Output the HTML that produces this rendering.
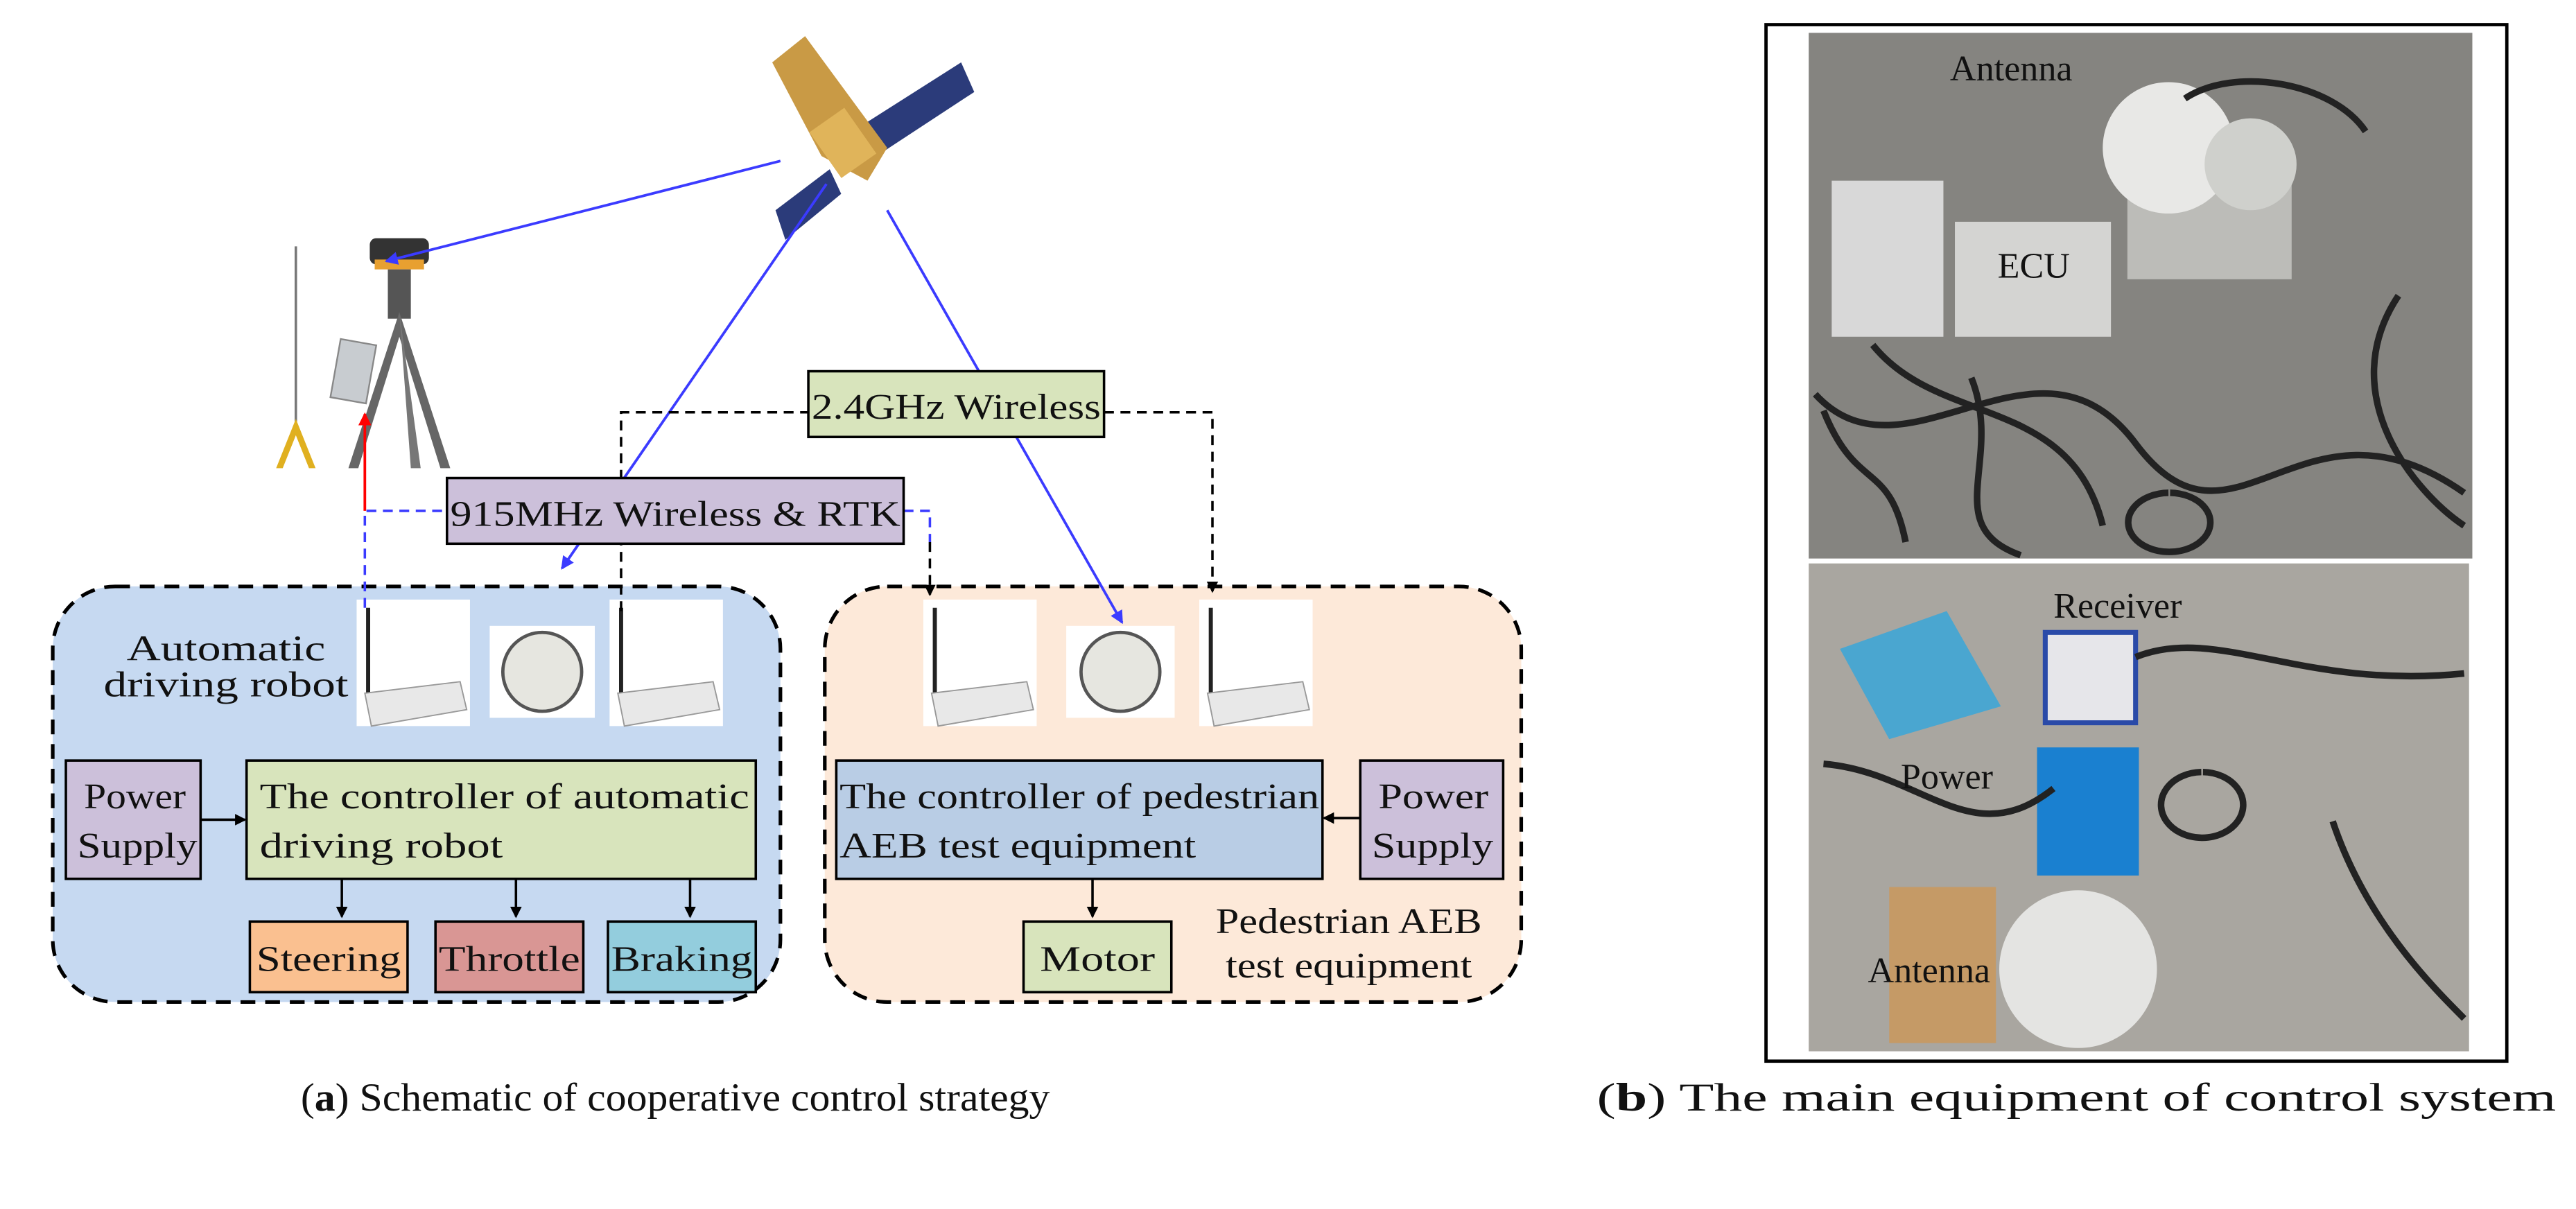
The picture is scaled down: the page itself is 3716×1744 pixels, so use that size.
<!DOCTYPE html>
<html><head><meta charset="utf-8"><style>
html,body{margin:0;padding:0;background:#fff;}
svg{display:block;}
text{font-family:"Liberation Serif",serif;fill:#111;}
</style></head><body>
<svg width="3716" height="1744" viewBox="0 0 1568 736" xmlns="http://www.w3.org/2000/svg">
<defs>
<marker id="ab" markerWidth="8" markerHeight="8" refX="7" refY="4" orient="auto" markerUnits="userSpaceOnUse"><path d="M0,0 L8,4 L0,8 z" fill="#3b3bff"/></marker>
<marker id="ak" markerWidth="7" markerHeight="7" refX="6" refY="3.5" orient="auto" markerUnits="userSpaceOnUse"><path d="M0,0 L7,3.5 L0,7 z" fill="#000"/></marker>
<marker id="ar" markerWidth="8" markerHeight="8" refX="7" refY="4" orient="auto" markerUnits="userSpaceOnUse"><path d="M0,0 L8,4 L0,8 z" fill="#f00"/></marker>
</defs>
<rect width="1568" height="736" fill="#fff"/>

<rect x="32" y="357" width="443" height="253" rx="38" fill="#c6d9f1" stroke="#000" stroke-width="2.2" stroke-dasharray="9,6"/>
<rect x="502" y="357" width="424" height="253" rx="38" fill="#fde9d9" stroke="#000" stroke-width="2.2" stroke-dasharray="9,6"/>

<!-- satellite -->
<g>
<polygon points="522,78 585,38 593,56 532,96" fill="#2b3b7a"/>
<polygon points="472,128 505,103 512,118 478,146" fill="#2b3b7a"/>
<polygon points="470,38 490,22 540,90 528,110 500,95" fill="#c99a45"/>
<rect x="500" y="70" width="26" height="34" fill="#e0b45a" transform="rotate(-35 513 87)"/>
</g>
<!-- tripod -->
<g>
<line x1="180" y1="150" x2="180" y2="260" stroke="#777" stroke-width="1.5"/>
<polygon points="180,255 168,285 172,285 180,265 188,285 192,285" fill="#e0b020"/>
<rect x="225" y="145" width="36" height="16" rx="4" fill="#333"/>
<rect x="228" y="158" width="30" height="6" fill="#e8a030"/>
<rect x="236" y="164" width="14" height="30" fill="#555"/>
<polygon points="243,190 212,285 218,285 243,205 268,285 274,285" fill="#666"/>
<polygon points="243,190 250,285 256,285" fill="#777"/>
<rect x="204" y="208" width="22" height="36" fill="#c8ccd0" stroke="#888" transform="rotate(10 215 226)"/>
</g>
<g id="r">
<rect x="217" y="365" width="69" height="77" fill="#fff"/>
<line x1="224" y1="370" x2="224" y2="425" stroke="#222" stroke-width="2.5"/>
<polygon points="222,422 280,415 284,432 226,442" fill="#e8e8e8" stroke="#999" stroke-width="0.8"/>
</g>
<use href="#r" x="154"/>
<use href="#r" x="345"/>
<use href="#r" x="513"/>
<rect x="298" y="381" width="64" height="56" fill="#fff"/>
<circle cx="330" cy="409" r="24" fill="#e6e6e0" stroke="#555" stroke-width="2"/>
<rect x="649" y="381" width="66" height="56" fill="#fff"/>
<circle cx="682" cy="409" r="24" fill="#e6e6e0" stroke="#555" stroke-width="2"/>

<line x1="475" y1="98" x2="235" y2="159" stroke="#3b3bff" stroke-width="1.6" marker-end="url(#ab)"/>
<line x1="503" y1="112" x2="342" y2="346" stroke="#3b3bff" stroke-width="1.6" marker-end="url(#ab)"/>
<line x1="540" y1="128" x2="683" y2="379" stroke="#3b3bff" stroke-width="1.6" marker-end="url(#ab)"/>

<polyline points="378,372 378,251 492,251" fill="none" stroke="#000" stroke-width="1.5" stroke-dasharray="6,4"/>
<polyline points="672,251 738,251 738,360" fill="none" stroke="#000" stroke-width="1.5" stroke-dasharray="6,4" marker-end="url(#ak)"/>
<polyline points="222,370 222,311 272,311" fill="none" stroke="#3b3bff" stroke-width="1.5" stroke-dasharray="6,4"/>
<polyline points="550,311 566,311 566,330" fill="none" stroke="#3b3bff" stroke-width="1.5" stroke-dasharray="6,4"/>
<polyline points="566,330 566,362" fill="none" stroke="#000" stroke-width="1.5" stroke-dasharray="6,4" marker-end="url(#ak)"/>
<line x1="222" y1="311" x2="222" y2="252" stroke="#f00" stroke-width="1.6" marker-end="url(#ar)"/>

<rect x="492" y="226" width="180" height="40" fill="#d8e4bc" stroke="#000" stroke-width="1.5"/>
<text x="494" y="255" font-size="22" textLength="176" lengthAdjust="spacingAndGlyphs">2.4GHz Wireless</text>
<rect x="272" y="291" width="278" height="40" fill="#ccc0da" stroke="#000" stroke-width="1.5"/>
<text x="274" y="320" font-size="22" textLength="274" lengthAdjust="spacingAndGlyphs">915MHz Wireless &amp; RTK</text>

<text x="77" y="402" font-size="22" textLength="121" lengthAdjust="spacingAndGlyphs">Automatic</text>
<text x="63" y="424" font-size="22" textLength="149" lengthAdjust="spacingAndGlyphs">driving robot</text>

<rect x="40" y="463" width="82" height="72" fill="#ccc0da" stroke="#000" stroke-width="1.5"/>
<text x="51" y="492" font-size="22" textLength="62" lengthAdjust="spacingAndGlyphs">Power</text>
<text x="47" y="522" font-size="22" textLength="73" lengthAdjust="spacingAndGlyphs">Supply</text>
<line x1="122" y1="499" x2="149" y2="499" stroke="#000" stroke-width="1.5" marker-end="url(#ak)"/>
<rect x="150" y="463" width="310" height="72" fill="#d8e4bc" stroke="#000" stroke-width="1.5"/>
<text x="158" y="492" font-size="22" textLength="298" lengthAdjust="spacingAndGlyphs">The controller of automatic</text>
<text x="158" y="522" font-size="22" textLength="148" lengthAdjust="spacingAndGlyphs">driving robot</text>
<line x1="208" y1="535" x2="208" y2="558" stroke="#000" stroke-width="1.5" marker-end="url(#ak)"/>
<line x1="314" y1="535" x2="314" y2="558" stroke="#000" stroke-width="1.5" marker-end="url(#ak)"/>
<line x1="420" y1="535" x2="420" y2="558" stroke="#000" stroke-width="1.5" marker-end="url(#ak)"/>
<rect x="152" y="561" width="96" height="43" fill="#fac090" stroke="#000" stroke-width="1.5"/>
<text x="156" y="591" font-size="22" textLength="88" lengthAdjust="spacingAndGlyphs">Steering</text>
<rect x="265" y="561" width="90" height="43" fill="#d99694" stroke="#000" stroke-width="1.5"/>
<text x="267" y="591" font-size="22" textLength="86" lengthAdjust="spacingAndGlyphs">Throttle</text>
<rect x="370" y="561" width="90" height="43" fill="#93cddd" stroke="#000" stroke-width="1.5"/>
<text x="372" y="591" font-size="22" textLength="86" lengthAdjust="spacingAndGlyphs">Braking</text>

<rect x="509" y="463" width="296" height="72" fill="#b9cde5" stroke="#000" stroke-width="1.5"/>
<text x="511" y="492" font-size="22" textLength="292" lengthAdjust="spacingAndGlyphs">The controller of pedestrian</text>
<text x="511" y="522" font-size="22" textLength="217" lengthAdjust="spacingAndGlyphs">AEB test equipment</text>
<rect x="828" y="463" width="87" height="72" fill="#ccc0da" stroke="#000" stroke-width="1.5"/>
<text x="839" y="492" font-size="22" textLength="67" lengthAdjust="spacingAndGlyphs">Power</text>
<text x="835" y="522" font-size="22" textLength="74" lengthAdjust="spacingAndGlyphs">Supply</text>
<line x1="828" y1="498" x2="806" y2="498" stroke="#000" stroke-width="1.5" marker-end="url(#ak)"/>
<line x1="665" y1="535" x2="665" y2="558" stroke="#000" stroke-width="1.5" marker-end="url(#ak)"/>
<rect x="623" y="561" width="90" height="43" fill="#d8e4bc" stroke="#000" stroke-width="1.5"/>
<text x="633" y="591" font-size="22" textLength="70" lengthAdjust="spacingAndGlyphs">Motor</text>
<text x="740" y="568" font-size="22" textLength="162" lengthAdjust="spacingAndGlyphs">Pedestrian AEB</text>
<text x="746" y="595" font-size="22" textLength="150" lengthAdjust="spacingAndGlyphs">test equipment</text>

<text x="183" y="676" font-size="24" textLength="456" lengthAdjust="spacingAndGlyphs">(<tspan font-weight="bold">a</tspan>) Schematic of cooperative control strategy</text>
<text x="972" y="676" font-size="24" textLength="584" lengthAdjust="spacingAndGlyphs">(<tspan font-weight="bold">b</tspan>) The main equipment of control system</text>

<rect x="1075" y="15" width="451" height="631" fill="#fff" stroke="#000" stroke-width="2"/>
<rect x="1101" y="20" width="404" height="320" fill="#858480"/>
<rect x="1101" y="343" width="402" height="297" fill="#a9a6a0"/>
<rect x="1115" y="110" width="68" height="95" fill="#d8d8d8"/>
<rect x="1190" y="135" width="95" height="70" fill="#d4d4d2"/>
<rect x="1295" y="100" width="100" height="70" fill="#bcbcb8"/>
<circle cx="1320" cy="90" r="40" fill="#e8e8e6"/>
<circle cx="1370" cy="100" r="28" fill="#cfd0cc"/>
<path d="M1105,240 C1160,300 1240,190 1300,270 S1400,230 1500,300 M1140,210 C1180,260 1260,240 1280,320 M1320,300 a25,18 0 1,0 1,0 M1460,180 C1420,240 1470,300 1500,320 M1330,60 C1360,40 1420,50 1440,80 M1200,230 C1220,280 1180,320 1230,338 M1110,250 C1130,300 1150,280 1160,330" stroke="#222" stroke-width="4" fill="none"/>
<polygon points="1120,395 1185,372 1218,430 1150,450" fill="#4aa6d0"/>
<rect x="1245" y="385" width="55" height="55" fill="#e6e6ea" stroke="#2a4aa8" stroke-width="3"/>
<rect x="1240" y="455" width="62" height="78" fill="#1a80d0"/>
<rect x="1150" y="540" width="65" height="95" fill="#c59a66"/>
<circle cx="1265" cy="590" r="48" fill="#e4e4e2"/>
<path d="M1110,465 C1170,470 1200,520 1250,480 M1340,470 a25,20 0 1,0 1,0 M1300,400 C1350,380 1400,420 1500,410 M1420,500 C1440,560 1480,600 1500,620" stroke="#222" stroke-width="4" fill="none"/>
<text x="1187" y="49" font-size="22" fill="#222">Antenna</text>
<text x="1216" y="169" font-size="22" fill="#222">ECU</text>
<text x="1250" y="376" font-size="22" fill="#222">Receiver</text>
<text x="1157" y="480" font-size="22" fill="#222">Power</text>
<text x="1137" y="598" font-size="22" fill="#222">Antenna</text>
</svg>
</body></html>
